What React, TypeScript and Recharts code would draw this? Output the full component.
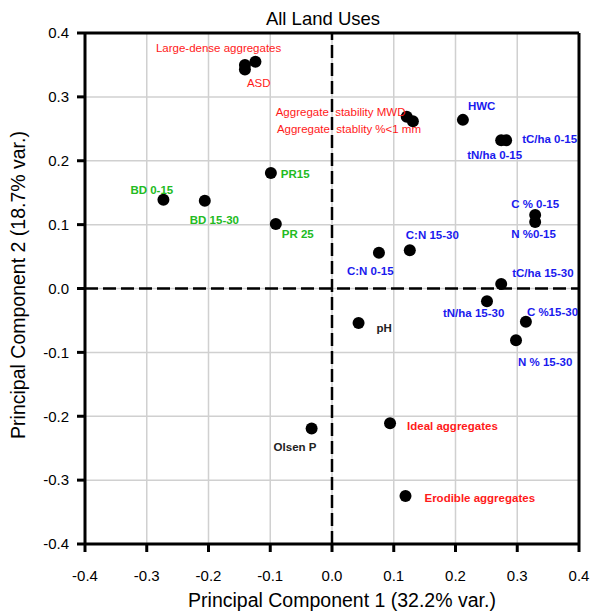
import * as React from "react";
import {
  ScatterChart,
  Scatter,
  XAxis,
  YAxis,
  CartesianGrid,
  ReferenceLine,
  Label
} from "recharts";

// variable loadings
const names = [
  "Large-dense aggregates",
  "ASD",
  "",
  "Aggregate  stability MWD",
  "Aggregate  stablity %<1 mm",
  "HWC",
  "tC/ha 0-15",
  "tN/ha 0-15",
  "C % 0-15",
  "N %0-15",
  "C:N 15-30",
  "C:N 0-15",
  "PR15",
  "PR 25",
  "BD 0-15",
  "BD 15-30",
  "tC/ha 15-30",
  "tN/ha 15-30",
  "C %15-30",
  "N % 15-30",
  "pH",
  "Olsen P",
  "Ideal aggregates",
  "Erodible aggregates"
];
const pc1 = [
  -0.141, -0.141, -0.124, 0.121, 0.131, 0.212, 0.282, 0.274, 0.329, 0.329,
  0.126, 0.076, -0.099, -0.091, -0.273, -0.206, 0.274, 0.251, 0.314, 0.298,
  0.043, -0.033, 0.094, 0.119
];
const pc2 = [
  0.35, 0.343, 0.355, 0.269, 0.262, 0.264, 0.232, 0.232, 0.115, 0.104, 0.06,
  0.056, 0.181, 0.101, 0.139, 0.1375, 0.007, -0.02, -0.052, -0.081, -0.054,
  -0.219, -0.211, -0.325
];
const groups = [
  "agg", "agg", "agg", "agg", "agg", "carbon", "carbon", "carbon", "carbon",
  "carbon", "carbon", "carbon", "phys", "phys", "phys", "phys", "carbon",
  "carbon", "carbon", "carbon", "chem", "chem", "aggBold", "aggBold"
];
const ticks = [-0.4, -0.3, -0.2, -0.1, 0, 0.1, 0.2, 0.3, 0.4];

const groupStyle: Record<string, { fill: string; weight: string }> = {
  agg: { fill: "#ff1a1a", weight: "normal" },
  aggBold: { fill: "#ff1a1a", weight: "bold" },
  carbon: { fill: "#1a1aee", weight: "bold" },
  phys: { fill: "#22bb22", weight: "bold" },
  chem: { fill: "#222222", weight: "bold" }
};

// label offset from its point, in px (text start, middle line)
const labelOffset: Record<string, [number, number]> = {
  "Large-dense aggregates": [-89, -17],
  ASD: [2, 14],
  "Aggregate  stability MWD": [-131, -5],
  "Aggregate  stablity %<1 mm": [-136, 8],
  HWC: [5, -14],
  "tC/ha 0-15": [16, -1],
  "tN/ha 0-15": [-34, 15],
  "C % 0-15": [-24, -11],
  "N %0-15": [-24, 12],
  "C:N 15-30": [-4, -15],
  "C:N 0-15": [-32, 18],
  PR15: [10, 1],
  "PR 25": [6, 10],
  "BD 0-15": [-33, -10],
  "BD 15-30": [-15, 19],
  "tC/ha 15-30": [11, -11],
  "tN/ha 15-30": [-44, 12],
  "C %15-30": [1, -10],
  "N % 15-30": [2, 22],
  pH: [18, 5],
  "Olsen P": [-38, 19],
  "Ideal aggregates": [17, 3],
  "Erodible aggregates": [19, 2]
};

const data = names.map((name, i) => ({
  name,
  x: pc1[i],
  y: pc2[i],
  group: groups[i]
}));

const font = "'Liberation Sans', Arial, sans-serif";

function Point(props: any) {
  const { cx, cy, payload } = props;
  const st = groupStyle[payload.group];
  const off = labelOffset[payload.name];
  return (
    <g>
      <circle cx={cx} cy={cy} r={6} fill="#000" />
      {off && (
        <text
          x={cx + off[0]}
          y={cy + off[1]}
          dominantBaseline="central"
          fontSize={11.5}
          fontWeight={st.weight}
          fill={st.fill}
          fontFamily={font}
          style={{ whiteSpace: "pre" }}
        >
          {payload.name}
        </text>
      )}
    </g>
  );
}

export default function App() {
  const tickStyle = { fontSize: 15, fill: "#000", fontFamily: font };
  return (
    <div style={{ position: "absolute", left: 0, top: 0, width: 594, height: 612, background: "#fff" }}>
      <div
        style={{
          position: "absolute",
          left: 123,
          width: 400,
          top: 7,
          textAlign: "center",
          fontSize: 18.5,
          lineHeight: "24px",
          fontFamily: font
        }}
      >
        All Land Uses
      </div>
      <ScatterChart
        width={594}
        height={612}
        margin={{ top: 33, right: 15, bottom: 0, left: 0 }}
      >
        <CartesianGrid stroke="#d0d0d0" strokeWidth={1.5} />
        <XAxis
          type="number"
          dataKey="x"
          domain={[-0.4, 0.4]}
          ticks={ticks}
          tickFormatter={(v: number) => v.toFixed(1)}
          height={68}
          tickSize={8}
          tickMargin={18}
          axisLine={{ stroke: "#000", strokeWidth: 3 }}
          tickLine={{ stroke: "#000", strokeWidth: 3 }}
          tick={tickStyle}
          allowDataOverflow
        >
          <Label
            content={() => (
              <text x={342} y={600} textAnchor="middle" dominantBaseline="central" fontSize={19.5} fontFamily={font} fill="#000">
                Principal Component 1 (32.2% var.)
              </text>
            )}
          />
        </XAxis>
        <YAxis
          type="number"
          dataKey="y"
          domain={[-0.4, 0.4]}
          ticks={ticks}
          tickFormatter={(v: number) => v.toFixed(1)}
          width={85}
          tickSize={8}
          tickMargin={8}
          axisLine={{ stroke: "#000", strokeWidth: 3 }}
          tickLine={{ stroke: "#000", strokeWidth: 3 }}
          tick={tickStyle}
          allowDataOverflow
        >
          <Label
            content={() => (
              <text x={18} y={285} transform="rotate(-90 18 285)" textAnchor="middle" dominantBaseline="central" fontSize={19.5} fontFamily={font} fill="#000">
                Principal Component 2 (18.7% var.)
              </text>
            )}
          />
        </YAxis>
        <ReferenceLine x={0} stroke="#000" strokeWidth={2.5} strokeDasharray="13 5" />
        <ReferenceLine y={0} stroke="#000" strokeWidth={2.5} strokeDasharray="13 5" />
        <ReferenceLine x={0.4} stroke="#000" strokeWidth={3} />
        <ReferenceLine y={0.4} stroke="#000" strokeWidth={3} />
        <Scatter data={data} shape={Point} isAnimationActive={false} />
      </ScatterChart>
    </div>
  );
}
